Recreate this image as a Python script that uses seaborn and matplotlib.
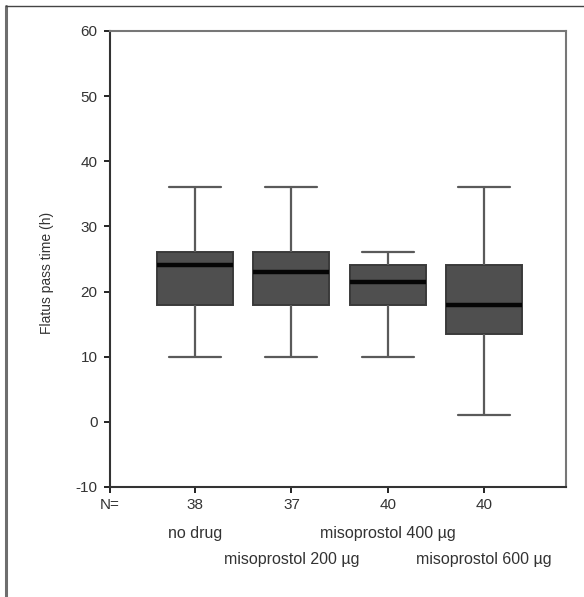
import pandas as pd
import matplotlib
matplotlib.use("Agg")
import matplotlib.pyplot as plt
from matplotlib.lines import Line2D
import seaborn as sns

# --- data (five-number summaries, hours) ---
groups = ["no drug", "misoprostol 200 \u00b5g", "misoprostol 400 \u00b5g", "misoprostol 600 \u00b5g"]
n_counts = [38, 37, 40, 40]
whisker_low = [10, 10, 10, 1]
q1 = [18, 18, 18, 13.5]
median = [24, 23, 21.5, 18]
q3 = [26, 26, 24, 24]
whisker_high = [36, 36, 26, 36]

y_ticks = [-10, 0, 10, 20, 30, 40, 50, 60]

# five points per group reproduce the summary exactly (linear percentiles)
rows = []
for i, g in enumerate(groups):
    for v in (whisker_low[i], q1[i], median[i], q3[i], whisker_high[i]):
        rows.append({"group": g, "hours": v})
df = pd.DataFrame(rows)

sns.set_theme(style="white")
plt.rcParams["font.family"] = ["Liberation Sans", "DejaVu Sans"]

fig = plt.figure(figsize=(5.84, 5.97), dpi=100)
ax = fig.add_axes([0.1884, 0.1843, 0.7808, 0.7638])

sns.boxplot(
    data=df, x="group", y="hours", order=groups, ax=ax,
    whis=(0, 100), width=0.79, showfliers=False,
    color="#4f4f4f", linecolor="#3a3a3a", linewidth=1.4,
    boxprops=dict(facecolor="#4f4f4f", edgecolor="#3a3a3a"),
    whiskerprops=dict(color="#5a5a5a", linewidth=1.6),
    capprops=dict(color="#5a5a5a", linewidth=1.6),
    medianprops=dict(color="#050505", linewidth=3.2),
    capwidths=0.54,
)

ax.set_ylim(-10, 60)
ax.set_xlim(-0.883, 3.851)
ax.set_yticks(y_ticks)
ax.set_yticklabels([str(t) for t in y_ticks])

# N= row on the x axis
ax.set_xticks([-0.883, 0, 1, 2, 3])
ax.set_xticklabels(["N="] + [str(n) for n in n_counts])
ax.tick_params(axis="both", which="both", direction="out", length=4, width=1.4,
               color="#222222", labelcolor="#333333", labelsize=11, pad=5,
               bottom=True, left=True)
ax.tick_params(axis="x", pad=4)
ax.set_xlabel("")
ax.set_ylabel("Flatus pass time (h)", fontsize=10, color="#333333")
ax.yaxis.set_label_coords(-0.123, 0.47)

# group names, staggered on two rows
row_y = [-0.103, -0.160, -0.103, -0.160]
for i, g in enumerate(groups):
    ax.text(i, row_y[i], g, transform=ax.get_xaxis_transform(), ha="center",
            va="center", fontsize=11.5, color="#333333")

for side in ["left", "bottom"]:
    ax.spines[side].set_color("#333333")
    ax.spines[side].set_linewidth(1.5)
for side in ["top", "right"]:
    ax.spines[side].set_color("#777777")
    ax.spines[side].set_linewidth(1.5)

# outer frame (left and top edges only are visible)
fig.add_artist(Line2D([0.0105, 0.0105], [0.0, 0.990], transform=fig.transFigure,
                      color="#6e6e6e", linewidth=2.2))
fig.add_artist(Line2D([0.0105, 1.0], [0.990, 0.990], transform=fig.transFigure,
                      color="#444444", linewidth=1.0))

fig.savefig("out.png", dpi=100)
